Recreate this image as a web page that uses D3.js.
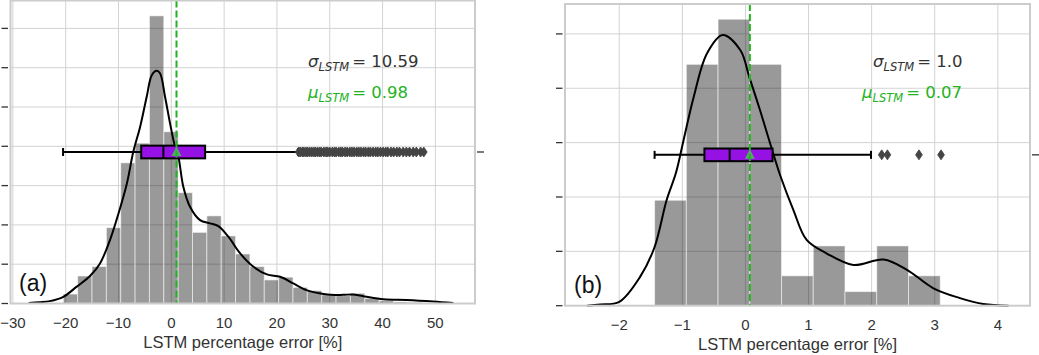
<!DOCTYPE html>
<html>
<head>
<meta charset="utf-8">
<script src="https://cdn.jsdelivr.net/npm/d3@7"></script>
<style>
    body { margin: 0; background: #fff; }
    svg { display: block; }
</style>
</head>
<body>
<svg id="chart"></svg>
<script>
// ---- data ----
// panel (a)
const leftBinStart = -20.45;
const leftBinWidth = 2.718;
const leftBarHeights = [0.24, 0.70, 0.94, 1.93, 3.58, 4.08, 7.32, 4.37, 2.82, 1.81, 2.23, 1.72, 1.26,
    0.94, 0.60, 0.67, 0.41, 0.33, 0.22, 0.20, 0.26, 0.13, 0.07, 0.04, 0.03];
const leftKdeX = [-27, -25, -23, -20.45, -17.9, -15.4, -13.5, -11.6, -10, -8.4, -7.2, -5.9, -4.66, -3.7,
    -2.77, -2.14, -1.19, -0.25, 0.7, 1.33, 2.27, 3.54, 5.44, 7.33, 8.9, 10.8, 13, 15.5, 18.1, 20.6,
    23.1, 25.6, 28, 30.1, 32.5, 34.5, 37, 40.2, 44.6, 49.6, 53.4];
const leftKdeY = [0.01, 0.03, 0.06, 0.17, 0.43, 0.70, 1.02, 1.62, 2.29, 3.06, 3.86, 4.50, 5.26, 5.81,
    5.92, 5.86, 5.26, 4.59, 3.99, 3.74, 2.97, 2.46, 2.12, 2.04, 1.97, 1.70, 1.28, 0.94, 0.74, 0.68,
    0.51, 0.34, 0.26, 0.22, 0.22, 0.23, 0.17, 0.11, 0.09, 0.05, 0.01];
const leftBox = [-20.5, -5.7, -1.5, 6.4, 24.0]; // whisker lo, q1, median, q3, whisker hi
const leftMean = 0.98;
const leftOutliers = [24.1, 24.4, 24.8, 25.1, 25.5, 25.8, 26.2, 26.6, 27.0, 27.3, 27.7, 28.1, 28.4,
    28.9, 29.3, 29.6, 30.0, 30.5, 30.9, 31.2, 31.7, 32.1, 32.4, 32.9, 33.3, 33.8, 34.2, 34.6, 35.1,
    35.5, 35.9, 36.4, 36.8, 37.3, 37.7, 38.2, 38.7, 39.1, 39.6, 40.1, 40.6, 41.0, 41.6, 42.1, 42.7,
    43.2, 43.9, 44.5, 45.1, 45.8, 46.4, 47.2, 47.8];
const leftXTicks = [-30, -20, -10, 0, 10, 20, 30, 40, 50];
const leftYTicks = [0, 1, 2, 3, 4, 5, 6, 7];
const leftSigma = "10.59";
const leftMu = "0.98";

// panel (b)
const rightBinStart = -1.44;
const rightBinWidth = 0.503;
const rightBarHeights = [1.94, 4.44, 5.27, 4.44, 0.55, 1.10, 0.26, 1.10, 0.55];
const rightKdeX = [-2.51, -2.3, -2.0, -1.67, -1.44, -1.25, -1.1, -0.98, -0.82, -0.61, -0.36, -0.08,
    0.06, 0.23, 0.44, 0.55, 0.76, 0.97, 1.29, 1.71, 2.19, 2.56, 2.98, 3.4, 3.77, 4.17];
const rightKdeY = [0.0, 0.02, 0.07, 0.53, 1.08, 1.94, 2.45, 3.05, 3.84, 4.64, 4.98, 4.70, 4.21,
    3.60, 2.80, 2.40, 1.76, 1.21, 0.96, 0.75, 0.85, 0.66, 0.32, 0.14, 0.03, 0.0];
const rightBox = [-1.44, -0.65, -0.25, 0.43, 1.99];
const rightMean = 0.07;
const rightOutliers = [2.16, 2.25, 2.75, 3.10];
const rightXTicks = [-2, -1, 0, 1, 2, 3, 4];
const rightYTicks = [0, 1, 2, 3, 4, 5];
const rightSigma = "1.0";
const rightMu = "0.07";

const xLabel = "LSTM percentage error [%]";

// ---- layout ----
const width = 1039;
const height = 355;
const gridColor = "#d3d3d3";
const green = "#22b322";

let svg = d3.select("#chart").attr("width", width).attr("height", height);

drawPanel({
    left: 10.5, right: 475, top: 0.5, bottom: 303.5,
    xDomain: [-30.45, 57.5], yMax: 7.71,
    binStart: leftBinStart, binWidth: leftBinWidth, bars: leftBarHeights,
    kdeX: leftKdeX, kdeY: leftKdeY,
    box: leftBox, mean: leftMean, outliers: leftOutliers,
    xTicks: leftXTicks, yTicks: leftYTicks,
    sigma: leftSigma, mu: leftMu,
    sigmaX: 308, muX: 308, tag: "(a)", tagX: 19
});

drawPanel({
    left: 565, right: 1030, top: 4, bottom: 305.7,
    xDomain: [-2.86, 4.51], yMax: 5.55,
    binStart: rightBinStart, binWidth: rightBinWidth, bars: rightBarHeights,
    kdeX: rightKdeX, kdeY: rightKdeY,
    box: rightBox, mean: rightMean, outliers: rightOutliers,
    xTicks: rightXTicks, yTicks: rightYTicks,
    sigma: rightSigma, mu: rightMu,
    sigmaX: 873, muX: 862, tag: "(b)", tagX: 574
});

function drawPanel(p) {
    let g = svg.append("g");

    let scX = d3.scaleLinear().domain(p.xDomain).range([p.left, p.right]);
    let scY = d3.scaleLinear().domain([0, p.yMax]).range([p.bottom, p.top]);
    // twin axis of the box plot: one category at 0
    let scBox = d3.scaleLinear().domain([0.5, -0.5]).range([p.top, p.bottom]);

    // grid
    g.append("g")
        .selectAll("line")
        .data(p.xTicks)
        .enter()
        .append("line")
        .attr("x1", (d) => scX(d))
        .attr("x2", (d) => scX(d))
        .attr("y1", p.top)
        .attr("y2", p.bottom)
        .attr("stroke", gridColor)
        .attr("stroke-width", 1);
    g.append("g")
        .selectAll("line")
        .data(p.yTicks.slice(1))
        .enter()
        .append("line")
        .attr("x1", p.left)
        .attr("x2", p.right)
        .attr("y1", (d) => scY(d))
        .attr("y2", (d) => scY(d))
        .attr("stroke", gridColor)
        .attr("stroke-width", 1);

    // histogram
    g.append("g")
        .selectAll("rect")
        .data(p.bars)
        .enter()
        .append("rect")
        .attr("x", (d, i) => scX(p.binStart + i * p.binWidth))
        .attr("width", scX(p.binWidth) - scX(0))
        .attr("y", (d) => scY(d))
        .attr("height", (d) => scY(0) - scY(d))
        .attr("fill", "#000")
        .attr("fill-opacity", 0.4)
        .attr("stroke", "#fff")
        .attr("stroke-opacity", 0.55)
        .attr("stroke-width", 1);

    // kde
    let line = d3.line()
        .x((d) => scX(d[0]))
        .y((d) => scY(d[1]))
        .curve(d3.curveCatmullRom);
    g.append("path")
        .attr("d", line(d3.zip(p.kdeX, p.kdeY)))
        .attr("fill", "none")
        .attr("stroke", "#000")
        .attr("stroke-width", 2);

    // box plot
    const boxW = 0.042;
    const yc = scBox(0);
    const y0 = scBox(boxW / 2);
    const y1 = scBox(-boxW / 2);
    const [wLo, q1, med, q3, wHi] = p.box;
    let bg = g.append("g").attr("stroke", "#000").attr("stroke-width", 2);
    bg.append("line").attr("x1", scX(wLo)).attr("x2", scX(q1)).attr("y1", yc).attr("y2", yc);
    bg.append("line").attr("x1", scX(q3)).attr("x2", scX(wHi)).attr("y1", yc).attr("y2", yc);
    bg.append("line").attr("x1", scX(wLo)).attr("x2", scX(wLo)).attr("y1", yc - 4).attr("y2", yc + 4);
    bg.append("line").attr("x1", scX(wHi)).attr("x2", scX(wHi)).attr("y1", yc - 4).attr("y2", yc + 4);
    bg.append("rect")
        .attr("x", scX(q1))
        .attr("width", scX(q3) - scX(q1))
        .attr("y", y0)
        .attr("height", y1 - y0)
        .attr("fill", "#9612e4");
    bg.append("line").attr("x1", scX(med)).attr("x2", scX(med)).attr("y1", y0).attr("y2", y1);

    // outliers (thin diamonds)
    g.append("g")
        .selectAll("path")
        .data(p.outliers)
        .enter()
        .append("path")
        .attr("d", (d) => {
            let x = scX(d);
            return `M${x},${yc - 5}L${x + 3.4},${yc}L${x},${yc + 5}L${x - 3.4},${yc}Z`;
        })
        .attr("fill", "#444")
        .attr("stroke", "#444")
        .attr("stroke-width", 0.8);

    // mean: triangle marker and dashed line
    let mx = scX(p.mean);
    g.append("path")
        .attr("d", `M${mx},${yc - 5.5}L${mx + 5},${yc + 4}L${mx - 5},${yc + 4}Z`)
        .attr("fill", "#55a868");
    g.append("line")
        .attr("x1", mx)
        .attr("x2", mx)
        .attr("y1", p.top)
        .attr("y2", p.bottom)
        .attr("stroke", green)
        .attr("stroke-width", 2)
        .attr("stroke-dasharray", "7,3");

    // right-hand tick of the box-plot axis
    g.append("line")
        .attr("x1", p.right + 2)
        .attr("x2", p.right + 9)
        .attr("y1", yc)
        .attr("y2", yc)
        .attr("stroke", "#333")
        .attr("stroke-width", 1.3);

    // spines
    g.append("rect")
        .attr("x", p.left)
        .attr("y", p.top)
        .attr("width", p.right - p.left)
        .attr("height", p.bottom - p.top)
        .attr("fill", "none")
        .attr("stroke", "#cccccc")
        .attr("stroke-width", 2);

    // y ticks without labels
    g.append("g")
        .selectAll("line")
        .data(p.yTicks)
        .enter()
        .append("line")
        .attr("x1", p.left - 9)
        .attr("x2", p.left - 2.5)
        .attr("y1", (d) => scY(d))
        .attr("y2", (d) => scY(d))
        .attr("stroke", "#333")
        .attr("stroke-width", 1.3);

    // x tick labels
    g.append("g")
        .selectAll("text")
        .data(p.xTicks)
        .enter()
        .append("text")
        .attr("x", (d) => scX(d))
        .attr("y", p.bottom + 24)
        .attr("text-anchor", "middle")
        .attr("font-family", "Liberation Sans, Arial, sans-serif")
        .attr("font-size", 15)
        .attr("fill", "#333")
        .text((d) => (d < 0 ? "\u2212" + Math.abs(d) : d));

    g.append("text")
        .attr("x", (p.left + p.right) / 2)
        .attr("y", p.bottom + 44)
        .attr("text-anchor", "middle")
        .attr("font-family", "Liberation Sans, Arial, sans-serif")
        .attr("font-size", 16.5)
        .attr("fill", "#333")
        .text(xLabel);

    // panel tag
    g.append("text")
        .attr("x", p.tagX)
        .attr("y", p.bottom - 13)
        .attr("font-family", "Liberation Sans, Arial, sans-serif")
        .attr("font-size", 23)
        .attr("fill", "#111")
        .text(p.tag);

    // statistics
    mathLabel(g, p.sigmaX, 67, "\u03c3", p.sigma, "#333");
    mathLabel(g, p.muX, 98, "\u03bc", p.mu, green);
}

function mathLabel(g, x, y, symbol, value, color) {
    let t = g.append("text")
        .attr("x", x)
        .attr("y", y)
        .attr("font-family", "DejaVu Sans, sans-serif")
        .attr("font-size", 16.5)
        .attr("fill", color);
    t.append("tspan").attr("font-style", "italic").text(symbol);
    t.append("tspan")
        .attr("font-style", "italic")
        .attr("font-size", 11.5)
        .attr("dy", 4)
        .text("LSTM");
    t.append("tspan").attr("dy", -4).attr("dx", 3).text("= " + value);
}
</script>
</body>
</html>
